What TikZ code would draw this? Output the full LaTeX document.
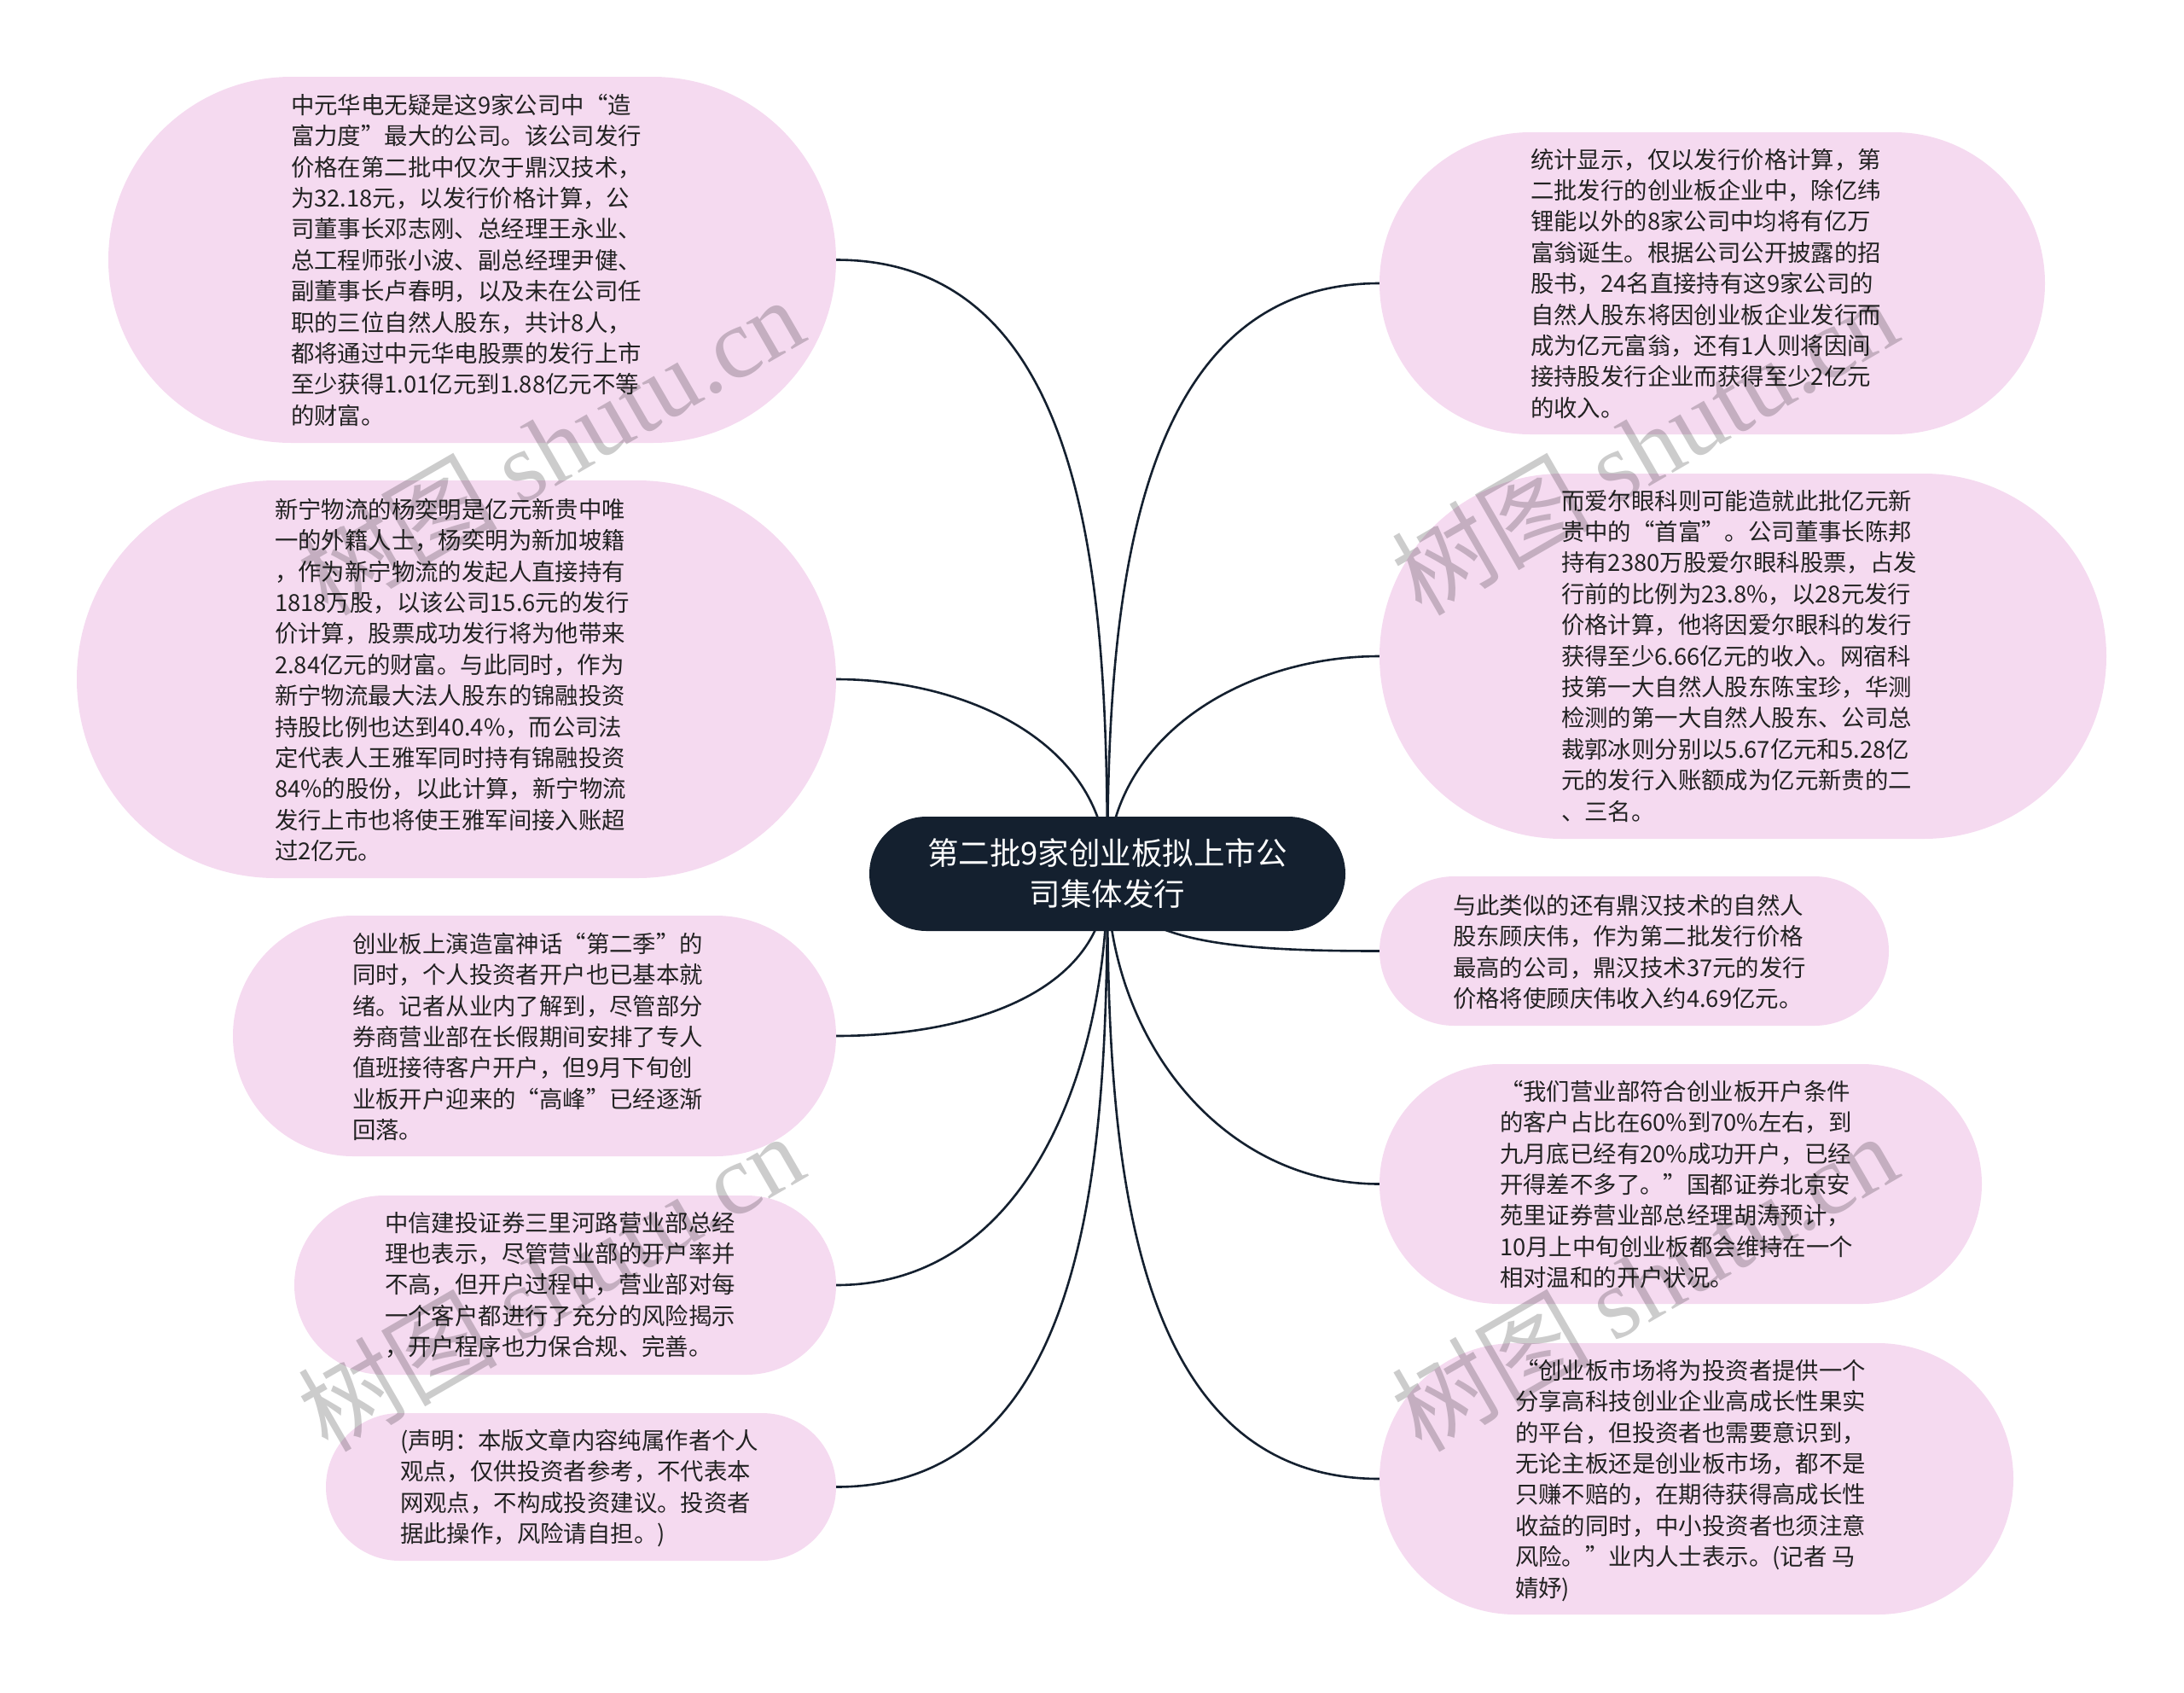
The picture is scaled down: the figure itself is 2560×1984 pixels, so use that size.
\documentclass[tikz,border=0pt]{standalone}
\usepackage{fontspec}
\setmainfont{Noto Sans CJK SC}
\newfontfamily\wmlatin{Liberation Serif}
\usetikzlibrary{shapes.misc}
\pgfdeclarelayer{bg}
\pgfsetlayers{bg,main}
\definecolor{pinkfill}{HTML}{F5DAF0}
\definecolor{navy}{HTML}{14202F}
\definecolor{bodytext}{HTML}{222222}
\tikzset{
  pill/.style={rounded rectangle,fill=pinkfill,draw=none,inner sep=0pt,outer sep=0pt},
  hub/.style={rounded rectangle,fill=navy,draw=none,inner sep=0pt,outer sep=0pt},
  body/.style={anchor=north west,inner sep=0pt,outer sep=0pt,align=left,text=bodytext,font=\fontsize{27.4}{36.4}\selectfont},
  hubtext/.style={anchor=center,inner sep=0pt,align=center,text=white,font=\fontsize{36.5}{48}\selectfont},
  link/.style={draw=navy,line width=2.6pt},
  wm/.style={anchor=center,rotate=30,text=black,text opacity=0.2,font=\fontsize{117}{117}\selectfont,inner sep=0pt}
}
\newcommand{\mmbox}[8]{%
  \node[pill,minimum width=#4pt,minimum height=#5pt] (#1) at (#2,#3) {};
  \node[body] (#1t) at (#6,#7) {#8};
}
\begin{document}
\begin{tikzpicture}[x=1pt,y=-1pt]
\useasboundingbox (0,0) rectangle (2560,1984);

\mmbox{la}{553.5}{304.5}{853}{429}{341}{110}{中元华电无疑是这9家公司中“造\\富力度”最大的公司。该公司发行\\价格在第二批中仅次于鼎汉技术，\\为32.18元，以发行价格计算，公\\司董事长邓志刚、总经理王永业、\\总工程师张小波、副总经理尹健、\\副董事长卢春明，以及未在公司任\\职的三位自然人股东，共计8人，\\都将通过中元华电股票的发行上市\\至少获得1.01亿元到1.88亿元不等\\的财富。}
\mmbox{lb}{535}{796}{890}{466}{322}{584}{新宁物流的杨奕明是亿元新贵中唯\\一的外籍人士，杨奕明为新加坡籍\\，作为新宁物流的发起人直接持有\\1818万股，以该公司15.6元的发行\\价计算，股票成功发行将为他带来\\2.84亿元的财富。与此同时，作为\\新宁物流最大法人股东的锦融投资\\持股比例也达到40.4\%，而公司法\\定代表人王雅军同时持有锦融投资\\84\%的股份，以此计算，新宁物流\\发行上市也将使王雅军间接入账超\\过2亿元。}
\mmbox{lc}{626.5}{1214}{707}{282}{413}{1093}{创业板上演造富神话“第二季”的\\同时，个人投资者开户也已基本就\\绪。记者从业内了解到，尽管部分\\券商营业部在长假期间安排了专人\\值班接待客户开户，但9月下旬创\\业板开户迎来的“高峰”已经逐渐\\回落。}
\mmbox{ld}{662.5}{1506}{635}{210}{451}{1420}{中信建投证券三里河路营业部总经\\理也表示，尽管营业部的开户率并\\不高，但开户过程中，营业部对每\\一个客户都进行了充分的风险揭示\\，开户程序也力保合规、完善。}
\mmbox{le}{681}{1742.5}{598}{173}{469}{1675}{(声明：本版文章内容纯属作者个人\\观点，仅供投资者参考，不代表本\\网观点，不构成投资建议。投资者\\据此操作，风险请自担。)}
\mmbox{ra}{2007}{332}{780}{354}{1794}{174}{统计显示，仅以发行价格计算，第\\二批发行的创业板企业中，除亿纬\\锂能以外的8家公司中均将有亿万\\富翁诞生。根据公司公开披露的招\\股书，24名直接持有这9家公司的\\自然人股东将因创业板企业发行而\\成为亿元富翁，还有1人则将因间\\接持股发行企业而获得至少2亿元\\的收入。}
\mmbox{rb}{2043}{769}{852}{428}{1830}{574}{而爱尔眼科则可能造就此批亿元新\\贵中的“首富”。公司董事长陈邦\\持有2380万股爱尔眼科股票，占发\\行前的比例为23.8\%，以28元发行\\价格计算，他将因爱尔眼科的发行\\获得至少6.66亿元的收入。网宿科\\技第一大自然人股东陈宝珍，华测\\检测的第一大自然人股东、公司总\\裁郭冰则分别以5.67亿元和5.28亿\\元的发行入账额成为亿元新贵的二\\、三名。}
\mmbox{rc}{1915.5}{1114.5}{597}{175}{1703}{1048}{与此类似的还有鼎汉技术的自然人\\股东顾庆伟，作为第二批发行价格\\最高的公司，鼎汉技术37元的发行\\价格将使顾庆伟收入约4.69亿元。}
\mmbox{rd}{1970}{1387.5}{706}{281}{1758}{1266}{“我们营业部符合创业板开户条件\\的客户占比在60\%到70\%左右，到\\九月底已经有20\%成功开户，已经\\开得差不多了。”国都证券北京安\\苑里证券营业部总经理胡涛预计，\\10月上中旬创业板都会维持在一个\\相对温和的开户状况。}
\mmbox{re}{1988.5}{1733}{743}{318}{1776}{1593}{“创业板市场将为投资者提供一个\\分享高科技创业企业高成长性果实\\的平台，但投资者也需要意识到，\\无论主板还是创业板市场，都不是\\只赚不赔的，在期待获得高成长性\\收益的同时，中小投资者也须注意\\风险。”业内人士表示。(记者 马\\婧妤)}

\node[hub,minimum width=558pt,minimum height=134pt] (hub) at (1298,1024) {};
\node[hubtext] (hubt) at (1298,1024) {第二批9家创业板拟上市公\\司集体发行};

\begin{pgfonlayer}{bg}
\draw[link] (hub.center) to[out=90,in=0] (la.east);
\draw[link] (hub.center) to[out=90,in=0] (lb.east);
\draw[link] (hub.center) to[out=-90,in=0] (lc.east);
\draw[link] (hub.center) to[out=-90,in=0] (ld.east);
\draw[link] (hub.center) to[out=-90,in=0] (le.east);
\draw[link] (hub.center) to[out=90,in=180] (ra.west);
\draw[link] (hub.center) to[out=90,in=180] (rb.west);
\draw[link] (hub.center) .. controls +(22,76) and +(-197,0) .. (rc.west);
\draw[link] (hub.center) to[out=-90,in=180] (rd.west);
\draw[link] (hub.center) to[out=-90,in=180] (re.west);
\end{pgfonlayer}

\node[wm] (w1) at (645,522) {树图 {\wmlatin shutu.cn}};
\node[wm] (w2) at (1927,522) {树图 {\wmlatin shutu.cn}};
\node[wm] (w3) at (645,1502) {树图 {\wmlatin shutu.cn}};
\node[wm] (w4) at (1927,1502) {树图 {\wmlatin shutu.cn}};
\end{tikzpicture}
\end{document}
